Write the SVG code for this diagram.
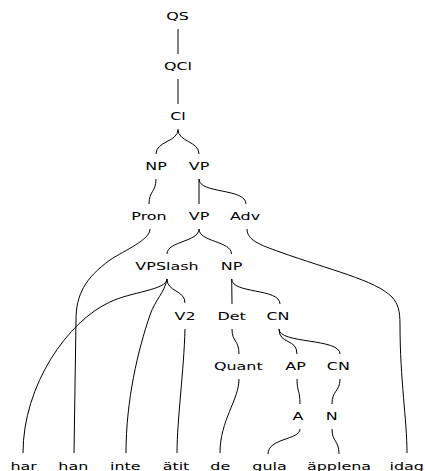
<svg xmlns="http://www.w3.org/2000/svg" width="425" height="471" viewBox="0 0 425 471">
<style>
text{font-family:"DejaVu Sans",sans-serif;font-size:10.5px;fill:#000;text-anchor:middle}
.e path{fill:none;stroke:#000;stroke-width:1}
</style>
<rect width="425" height="471" fill="#fff"/>
<g class="e" id="edges">
<path d="M178,29 L178,54"/>
<path d="M178,79 L178,104"/>
<path d="M178,129.5 C178,142 156,141 156,154"/>
<path d="M178,129.5 C178,142 199,141 199,154"/>
<path d="M156,179 C156,192 149,191 149,204"/>
<path d="M199,179 L199,204"/>
<path d="M199,179 C199,194 246,188 246,204"/>
<path d="M150,229 C150,240 125,250 110,260 C85,278 76,295 76,320 L74,453"/>
<path d="M199,229 C199,242 167,241 167,254"/>
<path d="M199,229 C199,242 231.5,241 231.5,254"/>
<path d="M247,229 C247,240 260,245 280,252 C330,270 375,280 392,297 C398,304 400,310 400,325 C400,380 407,420 407,453"/>
<path d="M167,279 C167,290 130,292 110,302 C68,321 23,385 23,453"/>
<path d="M167,279 C165,292 155,300 150,315 C138,350 126,400 126,453"/>
<path d="M167,279 C167,292 185,290 185,303"/>
<path d="M231.7,279 L232,304"/>
<path d="M231.7,279 C231.7,294 280,288 280,304"/>
<path d="M185,329 C184,370 177,420 177,453"/>
<path d="M232,329 C232,342 239,340 239,354"/>
<path d="M279,329 C279,345 297,338 297,354"/>
<path d="M279,329 C279,344 340,338 340,354"/>
<path d="M239,379 C239,400 220,420 220,453"/>
<path d="M297,379 C297,392 300,390 300,404"/>
<path d="M340,379 C340,392 332,390 332,404"/>
<path d="M300,429 C300,440 268,438 268,454"/>
<path d="M332,429 C332,442 339,440 339,454"/>
</g>
<g id="n-QS"><text transform="translate(177.5,19.5) scale(1.52,1)">QS</text></g>
<g id="n-QCl"><text transform="translate(178,69.5) scale(1.52,1)">QCl</text></g>
<g id="n-Cl"><text transform="translate(178,119.5) scale(1.52,1)">Cl</text></g>
<g id="n-NP1"><text transform="translate(156,169.5) scale(1.52,1)">NP</text></g>
<g id="n-VP1"><text transform="translate(199,169.5) scale(1.52,1)">VP</text></g>
<g id="n-Pron"><text transform="translate(149,219.5) scale(1.52,1)">Pron</text></g>
<g id="n-VP2"><text transform="translate(199,219.5) scale(1.52,1)">VP</text></g>
<g id="n-Adv"><text transform="translate(245,219.5) scale(1.52,1)">Adv</text></g>
<g id="n-VPSlash"><text transform="translate(167,269.5) scale(1.52,1)">VPSlash</text></g>
<g id="n-NP2"><text transform="translate(231.5,269.5) scale(1.52,1)">NP</text></g>
<g id="n-V2"><text transform="translate(185,319.5) scale(1.52,1)">V2</text></g>
<g id="n-Det"><text transform="translate(231.7,319.5) scale(1.52,1)">Det</text></g>
<g id="n-CN1"><text transform="translate(278,319.5) scale(1.52,1)">CN</text></g>
<g id="n-Quant"><text transform="translate(238.3,369.5) scale(1.52,1)">Quant</text></g>
<g id="n-AP"><text transform="translate(295.5,369.5) scale(1.52,1)">AP</text></g>
<g id="n-CN2"><text transform="translate(338.3,369.5) scale(1.52,1)">CN</text></g>
<g id="n-A"><text transform="translate(298,419.5) scale(1.52,1)">A</text></g>
<g id="n-N"><text transform="translate(331.7,419.5) scale(1.52,1)">N</text></g>
<g id="w-har"><text transform="translate(23.7,469.5) scale(1.52,1)">har</text></g>
<g id="w-han"><text transform="translate(73.3,469.5) scale(1.52,1)">han</text></g>
<g id="w-inte"><text transform="translate(125.3,469.5) scale(1.52,1)">inte</text></g>
<g id="w-atit"><text transform="translate(176,469.5) scale(1.52,1)">ätit</text></g>
<g id="w-de"><text transform="translate(220.3,469.5) scale(1.52,1)">de</text></g>
<g id="w-gula"><text transform="translate(269.5,469.5) scale(1.52,1)">gula</text></g>
<g id="w-applena"><text transform="translate(339,469.5) scale(1.52,1)">äpplena</text></g>
<g id="w-idag"><text transform="translate(406.7,469.5) scale(1.52,1)">idag</text></g>
</svg>
